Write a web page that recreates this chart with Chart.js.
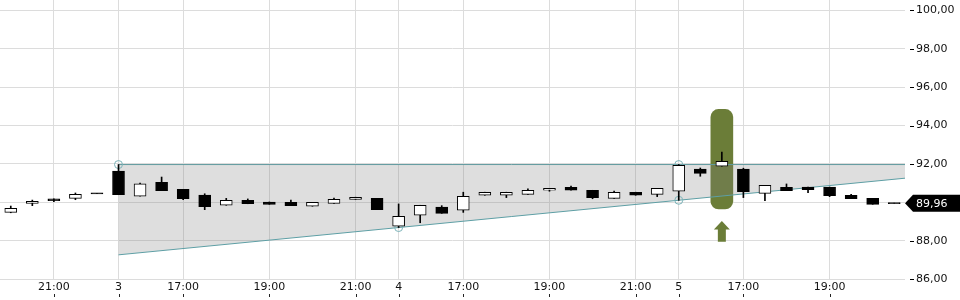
<!DOCTYPE html>
<html>
<head>
<meta charset="utf-8">
<script src="https://cdn.jsdelivr.net/npm/chart.js@4.4.1/dist/chart.umd.min.js"></script>
<style>
  html, body { margin: 0; padding: 0; background: #fff; }
  #chart { display: block; }
</style>
</head>
<body>
<canvas id="chart" width="960" height="300"></canvas>
<script>
// 30-minute candles, left to right
const opens  = [89.48, 89.95, 90.18, 90.21, 90.47, 91.63, 90.32, 91.05, 90.68, 90.38, 89.85, 90.11, 90.02, 90.00, 89.80, 89.95, 90.16, 90.21, 88.76, 89.33, 89.76, 89.59, 90.37, 90.37, 90.42, 90.63, 90.79, 90.63, 90.21, 90.53, 90.42, 90.58, 91.74, 91.88, 91.74, 90.47, 90.79, 90.80, 90.80, 90.37, 90.21, 89.96];
const highs  = [89.81, 90.12, 90.18, 90.49, 90.47, 91.97, 91.01, 91.32, 90.68, 90.45, 90.21, 90.18, 90.02, 90.12, 90.00, 90.23, 90.27, 90.21, 89.92, 89.85, 89.83, 90.53, 90.53, 90.53, 90.70, 90.73, 90.85, 90.63, 90.59, 90.53, 90.73, 91.97, 91.79, 92.62, 91.78, 90.89, 90.96, 90.80, 90.80, 90.42, 90.21, 89.96];
const lows   = [89.46, 89.83, 90.04, 90.14, 90.47, 90.40, 90.32, 90.61, 90.14, 89.62, 89.85, 89.93, 89.90, 89.83, 89.80, 89.95, 90.16, 89.62, 88.69, 88.94, 89.43, 89.48, 90.37, 90.25, 90.42, 90.58, 90.63, 90.19, 90.21, 90.37, 90.30, 90.11, 91.36, 91.88, 90.25, 90.09, 90.61, 90.51, 90.30, 90.19, 89.90, 89.96];
const closes = [89.69, 90.06, 90.09, 90.42, 90.47, 90.40, 90.96, 90.61, 90.19, 89.78, 90.11, 89.93, 89.90, 89.83, 90.00, 90.16, 90.27, 89.62, 89.28, 89.85, 89.43, 90.32, 90.53, 90.53, 90.63, 90.73, 90.63, 90.25, 90.53, 90.37, 90.73, 91.93, 91.51, 92.14, 90.56, 90.89, 90.61, 90.66, 90.35, 90.19, 89.90, 89.96];

const xTickIdx    = [2, 5, 8, 12, 16, 18, 21, 25, 29, 31, 34, 38];
const xTickLabels = ['21:00', '3', '17:00', '19:00', '21:00', '4', '17:00', '19:00', '21:00', '5', '17:00', '19:00'];
const yTicks      = [86, 88, 90, 92, 94, 96, 98, 100];

// channel: flat top, rising bottom through the two marked lows
const channelX    = [5, 41.5];
const channelHigh = [91.97, 91.97];
const channelLow  = [87.27, 91.26];
const markerX     = [5, 18, 31, 31];
const markerY     = [91.97, 88.69, 90.11, 91.97];

// highlighted candle + arrow
const highlightIdx   = 33;
const highlightRange = [89.66, 94.84];
const arrowRange     = [87.95, 89.03];

const lastPrice = 89.96;

const fmt = v => v.toFixed(2).replace('.', ',');
const idx = opens.map((_, i) => i);

const bodies = idx.map(i => {
  const o = opens[i], c = closes[i];
  return Math.abs(o - c) < 0.04 ? { x: i, y: [o - 0.03, o + 0.03] } : { x: i, y: [o, c] };
});
const bodyFill = idx.map(i => (closes[i] > opens[i] ? '#fff' : '#000'));
const wicks = idx.map(i => ({ x: i, y: [lows[i], highs[i]] }));

const TEAL = '#5e9fa5';
const OLIVE = '#6b7d38';

const extras = {
  id: 'extras',
  afterDraw(chart) {
    const { ctx, chartArea, scales: { x, y } } = chart;
    ctx.save();

    // little tick marks under the time labels
    ctx.strokeStyle = '#222';
    ctx.lineWidth = 1;
    x.ticks.forEach(t => {
      const px = Math.round(x.getPixelForValue(t.value)) + 0.5;
      ctx.beginPath();
      ctx.moveTo(px, chartArea.bottom + 14);
      ctx.lineTo(px, chartArea.bottom + 17);
      ctx.stroke();
    });
    // dashes in front of the price labels
    ctx.strokeStyle = '#000';
    y.ticks.forEach(t => {
      const py = Math.round(y.getPixelForValue(t.value)) + 0.5;
      ctx.beginPath();
      ctx.moveTo(chartArea.right + 5, py);
      ctx.lineTo(chartArea.right + 9, py);
      ctx.stroke();
    });

    // up arrow under the highlight
    const ax = x.getPixelForValue(highlightIdx);
    const aTop = y.getPixelForValue(arrowRange[1]);
    const aBot = y.getPixelForValue(arrowRange[0]);
    ctx.fillStyle = OLIVE;
    ctx.beginPath();
    ctx.moveTo(ax, aTop);
    ctx.lineTo(ax + 8, aTop + 8.5);
    ctx.lineTo(ax + 4, aTop + 8.5);
    ctx.lineTo(ax + 4, aBot);
    ctx.lineTo(ax - 4, aBot);
    ctx.lineTo(ax - 4, aTop + 8.5);
    ctx.lineTo(ax - 8, aTop + 8.5);
    ctx.closePath();
    ctx.fill();

    // last price tag
    const py = y.getPixelForValue(lastPrice);
    const left = chartArea.right;
    ctx.fillStyle = '#000';
    ctx.beginPath();
    ctx.moveTo(left, py);
    ctx.lineTo(left + 8, py - 8.5);
    ctx.lineTo(chart.width, py - 8.5);
    ctx.lineTo(chart.width, py + 8.5);
    ctx.lineTo(left + 8, py + 8.5);
    ctx.closePath();
    ctx.fill();
    ctx.fillStyle = '#fff';
    ctx.font = '11px "DejaVu Sans"';
    ctx.textBaseline = 'middle';
    ctx.textAlign = 'left';
    ctx.fillText(fmt(lastPrice), left + 11, py + 0.5);

    ctx.restore();
  }
};

Chart.defaults.font.family = '"DejaVu Sans", sans-serif';
Chart.defaults.font.size = 11;
Chart.defaults.color = '#111';

new Chart(document.getElementById('chart'), {
  type: 'bar',
  data: {
    datasets: [
      {
        type: 'bar', label: 'highlight', order: 9, grouped: false,
        data: [{ x: highlightIdx, y: highlightRange }],
        backgroundColor: OLIVE, barThickness: 22, borderRadius: 8, borderSkipped: false
      },
      {
        type: 'line', label: 'top', order: 8,
        data: channelX.map((v, i) => ({ x: v, y: channelHigh[i] })),
        borderColor: TEAL, borderWidth: 1, pointRadius: 0, fill: false
      },
      {
        type: 'line', label: 'bottom', order: 7,
        data: channelX.map((v, i) => ({ x: v, y: channelLow[i] })),
        borderColor: TEAL, borderWidth: 1, pointRadius: 0,
        fill: { target: 1 }, backgroundColor: 'rgba(128,128,128,0.26)'
      },
      {
        type: 'line', label: 'marks', order: 6, showLine: false,
        data: markerX.map((v, i) => ({ x: v, y: markerY[i] })),
        pointRadius: 4, pointBorderWidth: 1, pointBorderColor: '#7db4b9',
        pointBackgroundColor: 'rgba(0,0,0,0)'
      },
      {
        type: 'bar', label: 'wicks', order: 5, grouped: false,
        data: wicks, backgroundColor: '#000', barThickness: 1
      },
      {
        type: 'bar', label: 'bodies', order: 4, grouped: false,
        data: bodies, backgroundColor: bodyFill, borderColor: '#000',
        borderWidth: 1, borderSkipped: false, barThickness: 12
      }
    ]
  },
  options: {
    responsive: false,
    animation: false,
    devicePixelRatio: 1,
    layout: { padding: 0, autoPadding: false },
    plugins: { legend: { display: false }, tooltip: { enabled: false } },
    scales: {
      x: {
        type: 'linear', min: -0.5, max: 41.5, offset: false,
        afterBuildTicks: s => { s.ticks = xTickIdx.map(v => ({ value: v })); },
        afterFit: s => { s.height = 20; s.paddingLeft = 0; s.paddingRight = 0; },
        ticks: {
          padding: 1, maxRotation: 0, autoSkip: false,
          callback: v => xTickLabels[xTickIdx.indexOf(v)]
        },
        grid: { color: '#dcdcdc', drawTicks: false, offset: false },
        border: { display: false }
      },
      y: {
        type: 'linear', position: 'right', min: 85.96, max: 100.536,
        afterBuildTicks: s => { s.ticks = yTicks.map(v => ({ value: v })); },
        afterFit: s => { s.width = 55; s.paddingTop = 0; s.paddingBottom = 0; },
        ticks: { padding: 11, callback: v => fmt(v) },
        grid: { color: '#dcdcdc', drawTicks: false },
        border: { display: false }
      }
    }
  },
  plugins: [extras]
});
</script>
</body>
</html>
